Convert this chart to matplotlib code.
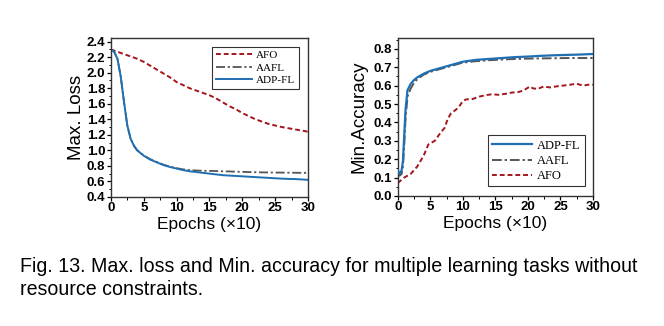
import numpy as np
import matplotlib
matplotlib.use("Agg")
import matplotlib.pyplot as plt
from matplotlib.ticker import MultipleLocator

# ---- Left panel: Max. loss ----
loss_x = [0, 0.5, 1, 1.5, 2, 2.5, 3, 3.5, 4, 5, 6, 7, 8, 9, 10, 11, 12, 13, 14, 15,
          16, 17, 18, 19, 20, 21, 22, 23, 24, 25, 26, 27, 28, 29, 30]
loss_adp = [2.30, 2.27, 2.18, 1.95, 1.62, 1.32, 1.15, 1.06, 1.00, 0.93, 0.88, 0.845, 0.81,
            0.785, 0.765, 0.745, 0.73, 0.72, 0.71, 0.70, 0.69, 0.68, 0.675, 0.67, 0.665,
            0.66, 0.655, 0.65, 0.645, 0.64, 0.635, 0.632, 0.63, 0.625, 0.62]
loss_aafl = [2.30, 2.27, 2.18, 1.95, 1.62, 1.32, 1.15, 1.06, 1.00, 0.935, 0.885, 0.85, 0.815,
             0.79, 0.77, 0.755, 0.745, 0.74, 0.737, 0.735, 0.733, 0.73, 0.728, 0.725, 0.723,
             0.72, 0.718, 0.716, 0.715, 0.714, 0.713, 0.712, 0.711, 0.71, 0.71]
afo_loss_x = [0, 1, 2, 3, 4, 5, 6, 7, 8, 9, 10, 11, 12, 13, 14, 15, 16, 17, 18, 19, 20,
              21, 22, 23, 24, 25, 26, 27, 28, 29, 30]
loss_afo = [2.30, 2.27, 2.24, 2.21, 2.18, 2.14, 2.09, 2.04, 1.99, 1.94, 1.88, 1.84, 1.80,
            1.77, 1.74, 1.71, 1.67, 1.62, 1.57, 1.53, 1.48, 1.44, 1.40, 1.37, 1.34, 1.32,
            1.30, 1.285, 1.27, 1.255, 1.24]

# ---- Right panel: Min. accuracy ----
acc_x = [0, 0.3, 0.6, 0.8, 1.0, 1.2, 1.5, 2, 2.5, 3, 4, 5, 6, 7, 8, 9, 10, 12, 14, 16,
         18, 20, 22, 24, 26, 28, 30]
acc_adp = [0.14, 0.12, 0.14, 0.19, 0.33, 0.47, 0.575, 0.61, 0.63, 0.645, 0.665, 0.68,
           0.69, 0.70, 0.71, 0.72, 0.73, 0.74, 0.745, 0.75, 0.755, 0.758, 0.762, 0.765,
           0.767, 0.769, 0.772]
acc_aafl = [0.13, 0.11, 0.12, 0.16, 0.28, 0.42, 0.54, 0.585, 0.615, 0.635, 0.66, 0.675,
            0.685, 0.695, 0.705, 0.715, 0.725, 0.733, 0.738, 0.742, 0.745, 0.747, 0.748,
            0.749, 0.75, 0.75, 0.75]
afo_acc_x = [0, 1, 2, 3, 4, 4.7, 5.7, 6.5, 7.2, 7.7, 8.2, 8.8, 9.3, 10, 10.5, 11.5, 12.5,
             13.5, 14.5, 15.5, 16.5, 17.5, 18.5, 19.3, 20.3, 20.8, 21.5, 22.4, 23.4, 24.4,
             25.4, 26.5, 27.5, 28.5, 29.3, 30]
acc_afo = [0.07, 0.10, 0.12, 0.16, 0.22, 0.28, 0.30, 0.34, 0.37, 0.42, 0.45, 0.465, 0.48,
           0.515, 0.525, 0.527, 0.54, 0.548, 0.553, 0.55, 0.555, 0.562, 0.565, 0.573, 0.595,
           0.585, 0.582, 0.595, 0.59, 0.596, 0.60, 0.605, 0.61, 0.60, 0.605, 0.605]

caption_lines = ["Fig. 13. Max. loss and Min. accuracy for multiple learning tasks without",
                 "resource constraints."]

BLUE = "#1f6fb2"
GREY = "#555555"
RED = "#a3161b"
SANS = "Liberation Sans"
SERIF = "Liberation Serif"

fig = plt.figure(figsize=(6.64, 3.26), dpi=100)
ax1 = fig.add_axes([0.167, 0.396, 0.297, 0.488])
ax2 = fig.add_axes([0.599, 0.399, 0.294, 0.485])

ax1.plot(afo_loss_x, loss_afo, color=RED, ls=(0, (2.5, 1.5)), lw=1.4, label="AFO")
ax1.plot(loss_x, loss_aafl, color=GREY, ls=(0, (5, 1.5, 1.2, 1.5)), lw=1.3, label="AAFL")
ax1.plot(loss_x, loss_adp, color=BLUE, lw=1.4, label="ADP-FL")
ax1.set_xlim(0, 30)
ax1.set_ylim(0.4, 2.45)
ax1.yaxis.set_major_locator(MultipleLocator(0.2))
ax1.yaxis.set_minor_locator(MultipleLocator(0.1))
ax1.xaxis.set_major_locator(MultipleLocator(5))
ax1.xaxis.set_minor_locator(MultipleLocator(2.5))
ax1.set_ylabel("Max. Loss", family=SANS, fontsize=13.5, labelpad=1)
ax1.set_xlabel("Epochs (\u00d710)", family=SANS, fontsize=12.5, labelpad=2)
leg1 = ax1.legend(loc="upper right", bbox_to_anchor=(0.955, 0.945), prop={"family": SERIF, "size": 8},
                  handlelength=3.2, frameon=True, fancybox=False, edgecolor="black",
                  borderpad=0.35, labelspacing=0.25, handletextpad=0.4, borderaxespad=0)
leg1.get_frame().set_linewidth(0.8)

ax2.plot(acc_x, acc_adp, color=BLUE, lw=1.6, label="ADP-FL", zorder=3)
ax2.plot(acc_x, acc_aafl, color=GREY, ls=(0, (5, 1.5, 1.2, 1.5)), lw=1.4, label="AAFL")
ax2.plot(afo_acc_x, acc_afo, color=RED, ls=(0, (2.5, 1.5)), lw=1.4, label="AFO")
ax2.set_xlim(0, 30)
ax2.set_ylim(0.0, 0.86)
ax2.yaxis.set_major_locator(MultipleLocator(0.1))
ax2.yaxis.set_minor_locator(MultipleLocator(0.05))
ax2.xaxis.set_major_locator(MultipleLocator(5))
ax2.xaxis.set_minor_locator(MultipleLocator(2.5))
ax2.set_ylabel("Min.Accuracy", family=SANS, fontsize=13.5, labelpad=4)
ax2.set_xlabel("Epochs (\u00d710)", family=SANS, fontsize=12.5, labelpad=2)
leg2 = ax2.legend(loc="lower right", bbox_to_anchor=(0.96, 0.06), prop={"family": SERIF, "size": 9},
                  handlelength=3.2, frameon=True, fancybox=False, edgecolor="black",
                  borderpad=0.35, labelspacing=0.25, handletextpad=0.4, borderaxespad=0)
leg2.get_frame().set_linewidth(0.8)

for ax in (ax1, ax2):
    for sp in ax.spines.values():
        sp.set_linewidth(1.0)
        sp.set_color("#333333")
    ax.tick_params(which="major", direction="out", length=3, width=0.9, pad=1,
                   labelsize=9.5)
    ax.tick_params(which="minor", direction="out", length=1.8, width=0.7)
    for lab in ax.get_xticklabels() + ax.get_yticklabels():
        lab.set_family(SANS)
        lab.set_fontweight("bold")

fig.text(20 / 664, 1 - 272 / 326, caption_lines[0], family=SANS, fontsize=14.1, va="baseline", ha="left")
fig.text(20 / 664, 1 - 295 / 326, caption_lines[1], family=SANS, fontsize=14.1, va="baseline", ha="left")

fig.savefig("out.png", dpi=100)
